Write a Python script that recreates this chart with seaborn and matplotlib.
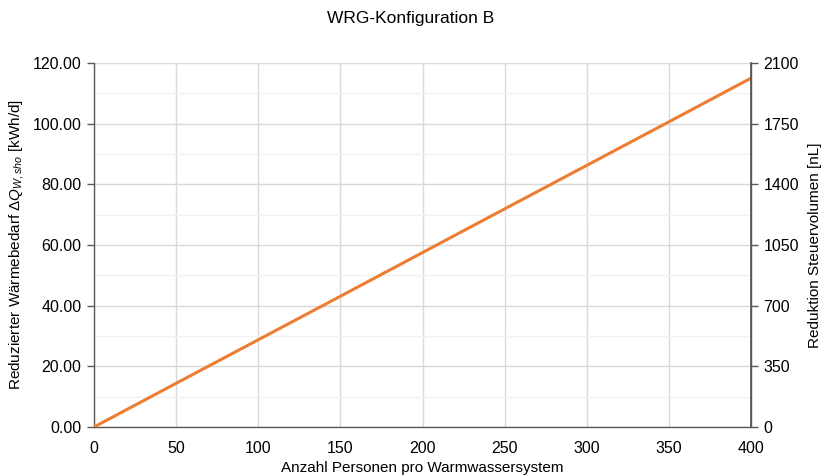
import matplotlib
matplotlib.use("Agg")
import matplotlib.pyplot as plt
import seaborn as sns
import pandas as pd
from matplotlib.ticker import MultipleLocator

# Data
personen = [0, 50, 100, 150, 200, 250, 300, 350, 400]
waermebedarf = [0.0, 14.4, 28.75, 43.1, 57.5, 71.9, 86.25, 100.6, 115.0]
title = "WRG-Konfiguration B"
xlabel = "Anzahl Personen pro Warmwassersystem"
ylabel_left = r"Reduzierter Wärmebedarf $\Delta Q_{W,sho}$ [kWh/d]"
ylabel_right = "Reduktion Steuervolumen [nL]"
right_ticks = [0, 350, 700, 1050, 1400, 1750, 2100]

sns.set_theme(style="white")
plt.rcParams['font.family'] = ['Liberation Sans', 'DejaVu Sans']
plt.rcParams['mathtext.fontset'] = 'custom'
plt.rcParams['mathtext.rm'] = 'Liberation Sans'
plt.rcParams['mathtext.it'] = 'Liberation Sans:italic'
plt.rcParams['text.color'] = 'black'
plt.rcParams['axes.labelcolor'] = 'black'
plt.rcParams['xtick.color'] = 'black'
plt.rcParams['ytick.color'] = 'black'

df = pd.DataFrame({"x": personen, "y": waermebedarf})

fig = plt.figure(figsize=(8.22, 4.76), dpi=100)
ax = fig.add_axes([94/822, 49/476, (751-94)/822, (427-63)/476])

sns.lineplot(data=df, x="x", y="y", ax=ax, color="#ED7D31", linewidth=2.2, zorder=5)

ax.set_xlim(0, 400)
ax.set_ylim(0, 120)
ax.xaxis.set_major_locator(MultipleLocator(50))
ax.yaxis.set_major_locator(MultipleLocator(20))
ax.yaxis.set_minor_locator(MultipleLocator(10))
ax.yaxis.set_major_formatter(matplotlib.ticker.FormatStrFormatter("%.2f"))
ax.grid(True, which="major", axis="both", color="#d9d9d9", linewidth=1.0)
ax.grid(True, which="minor", axis="y", color="#f2f2f2", linewidth=1.0)
ax.set_axisbelow(True)

ax.spines["top"].set_visible(False)
for s in ["left", "bottom", "right"]:
    ax.spines[s].set_color("#595959")
    ax.spines[s].set_linewidth(1.0)

ax.tick_params(axis="x", length=0, pad=10, labelsize=11.5, labelcolor="black")
ax.tick_params(axis="y", which="major", length=5, width=1, color="#595959", direction="out",
               labelsize=11.5, left=True, pad=4, labelcolor="black")
ax.tick_params(axis="y", which="minor", length=0)

ax.set_xlabel(xlabel, fontsize=11, labelpad=4, color="black")
ax.set_ylabel(ylabel_left, fontsize=11, labelpad=5, color="black")

ax2 = ax.twinx()
ax2.set_ylim(0, 2100)
ax2.set_yticks(right_ticks)
ax2.tick_params(axis="y", length=5, width=1, color="#595959", direction="out",
                labelsize=11.5, right=True, pad=4, labelcolor="black")
for s in ["top", "left", "bottom"]:
    ax2.spines[s].set_visible(False)
ax2.spines["right"].set_color("#595959")
ax2.set_ylabel(ylabel_right, fontsize=11, color="black")
ax2.yaxis.set_label_coords((808 - 94) / (751 - 94), 0.5)
ax2.grid(False)

fig.suptitle(title, fontsize=12.5, y=1 - 11/476, va="top", color="black")

fig.savefig("out.png", dpi=100)
